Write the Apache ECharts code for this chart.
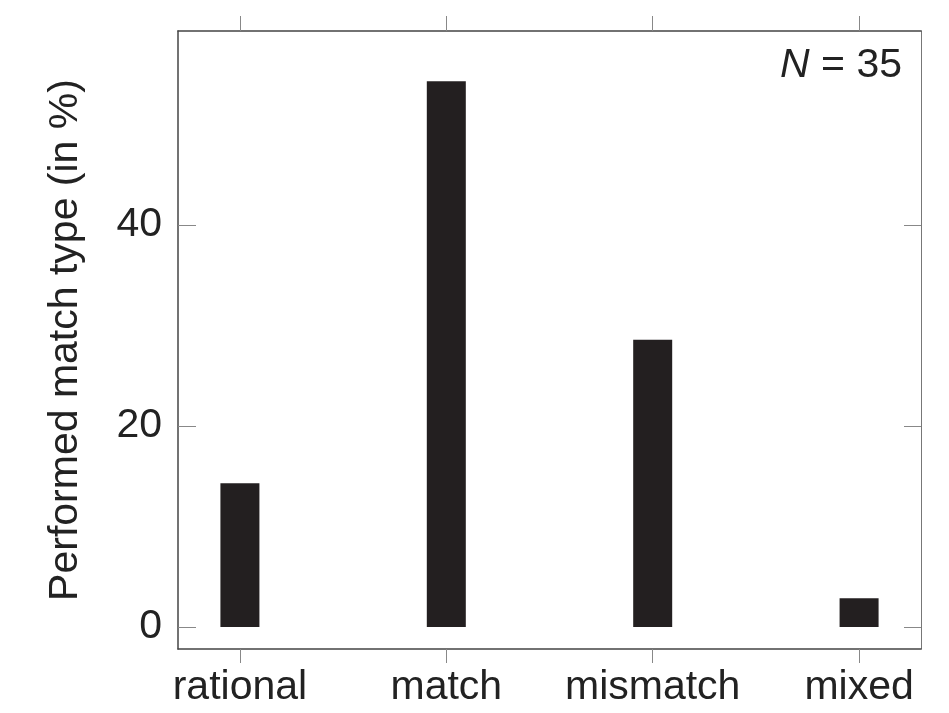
<!DOCTYPE html>
<html>
<head>
<meta charset="utf-8">
<script src="https://cdn.jsdelivr.net/npm/echarts@6/dist/echarts.min.js"></script>
<style>html,body{margin:0;padding:0;background:#fff;}#c{width:949px;height:713px;}</style>
</head>
<body>
<div id="c"></div>
<script>
var categories = ['rational', 'match', 'mismatch', 'mixed'];
var positions = [1, 2, 3, 4];
var percents = [14.29, 54.29, 28.57, 2.86];
var yTicks = [0, 20, 40];
var nText = '35';

var chart = echarts.init(document.getElementById('c'));
var FONT = 'Liberation Sans, Arial, sans-serif';
var barData = positions.map(function (p, i) { return [p, percents[i]]; });

chart.setOption({
  animation: false,
  backgroundColor: '#fff',
  grid: { left: 178, right: 28, top: 31, bottom: 64, containLabel: false },
  title: {
    text: '{i|N} = ' + nText,
    right: 42, top: 40,
    textStyle: {
      fontFamily: FONT, fontSize: 41, color: '#222', fontWeight: 'normal',
      rich: { i: { fontFamily: FONT, fontSize: 41, fontStyle: 'italic', color: '#222' } }
    }
  },
  xAxis: [{
    type: 'value', min: 0.7, max: 4.3, position: 'bottom',
    splitLine: { show: false },
    axisLine: { show: true, onZero: false, lineStyle: { color: '#444', width: 1.5 } },
    axisTick: { show: true, inside: false, length: 14, customValues: positions, lineStyle: { color: '#888', width: 1 } },
    axisLabel: {
      show: true, customValues: positions, margin: 18,
      fontFamily: FONT, fontSize: 41, color: '#222',
      formatter: function (v) { var i = positions.indexOf(v); return i >= 0 ? categories[i] : ''; }
    }
  }, {
    type: 'value', min: 0.7, max: 4.3, position: 'top',
    splitLine: { show: false },
    axisLine: { show: true, onZero: false, lineStyle: { color: '#444', width: 1.5 } },
    axisTick: { show: true, inside: false, length: 15, customValues: positions, lineStyle: { color: '#888', width: 1 } },
    axisLabel: { show: false }
  }],
  yAxis: [{
    type: 'value', min: -2.2, max: 59.3, position: 'left',
    splitLine: { show: false },
    axisLine: { show: true, onZero: false, lineStyle: { color: '#444', width: 1.5 } },
    axisTick: { show: true, inside: true, length: 18, customValues: yTicks, lineStyle: { color: '#888', width: 1 } },
    axisLabel: { show: true, customValues: yTicks, margin: 16, fontFamily: FONT, fontSize: 41, color: '#222' },
    name: 'Performed match type (in %)',
    nameLocation: 'middle', nameGap: 92,
    nameTextStyle: { fontFamily: FONT, fontSize: 41, color: '#222' }
  }, {
    type: 'value', min: -2.2, max: 59.3, position: 'right',
    splitLine: { show: false },
    axisLine: { show: true, onZero: false, lineStyle: { color: '#777', width: 1 } },
    axisTick: { show: true, inside: true, length: 17, customValues: yTicks, lineStyle: { color: '#888', width: 1 } },
    axisLabel: { show: false }
  }],
  series: [{
    type: 'bar', xAxisIndex: 0, yAxisIndex: 0,
    data: barData, barWidth: 39,
    itemStyle: { color: '#231f20' }
  }]
});
</script>
</body>
</html>
